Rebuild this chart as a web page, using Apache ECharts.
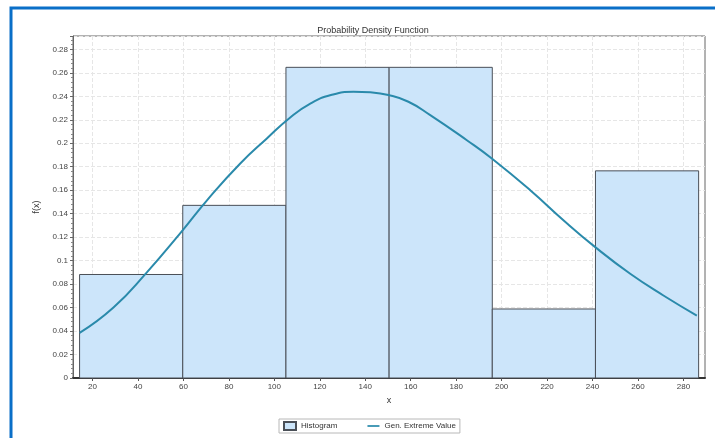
<!DOCTYPE html>
<html>
<head>
<meta charset="utf-8">
<script src="https://cdn.jsdelivr.net/npm/echarts@6/dist/echarts.min.js"></script>
<style>
html,body{margin:0;padding:0;background:#fff;}
#c{width:715px;height:438px;}
</style>
</head>
<body>
<div id="c"></div>
<script>
// Histogram bins (edges) and relative frequencies
var binStarts = [14.3, 59.7, 105.1, 150.5, 195.9, 241.3];
var binEnds   = [59.7, 105.1, 150.5, 195.9, 241.3, 286.7];
var binHeights = [0.0882, 0.1471, 0.2647, 0.2647, 0.0588, 0.1765];

// Gen. Extreme Value fitted curve
var curveX = [14.3, 29.2, 43.9, 59.0, 71.0, 85.0, 96.7, 107.0, 116.0, 124.9, 134.8, 142.2, 150.2, 159.0, 168.6, 184.7, 195.7, 212.6, 227.2, 241.2, 256.6, 271.2, 285.9];
var curveY = [0.0384, 0.0600, 0.0900, 0.1243, 0.1529, 0.1828, 0.2041, 0.2220, 0.2340, 0.2411, 0.2439, 0.2434, 0.2411, 0.2354, 0.2240, 0.2026, 0.1870, 0.1600, 0.1344, 0.1115, 0.0888, 0.0703, 0.0532];

var xTicks = [20, 40, 60, 80, 100, 120, 140, 160, 180, 200, 220, 240, 260, 280];

var histData = binStarts.map(function (s, i) { return [s, binEnds[i], binHeights[i]]; });
var curveData = curveX.map(function (x, i) { return [x, curveY[i]]; });

var chart = echarts.init(document.getElementById('c'));
var font = 'Liberation Sans, Arial, sans-serif';
chart.setOption({
  backgroundColor: '#fff',
  animation: false,
  title: {
    text: 'Probability Density Function',
    left: 368, top: 21, textAlign: 'center',
    textStyle: { fontSize: 9, fontWeight: 'normal', color: '#333', fontFamily: font }
  },
  graphic: [{
    type: 'rect', shape: { x: 11, y: 8, width: 740, height: 460 },
    style: { fill: 'none', stroke: '#0a6fc8', lineWidth: 3 }, z: 100
  }],
  legend: {
    bottom: 5, left: 279,
    itemWidth: 12, itemHeight: 8, itemGap: 30,
    borderColor: '#b8b8b8', borderWidth: 1, padding: [2, 4, 2, 4],
    textStyle: { fontSize: 8, color: '#333', fontFamily: font },
    data: [
      { name: 'Histogram', icon: 'rect' },
      { name: 'Gen. Extreme Value', icon: 'path://M0,0L14,0L14,2L0,2Z' }
    ]
  },
  grid: { left: 73, top: 36, right: 10, bottom: 60, show: true, borderColor: '#666', borderWidth: 1 },
  xAxis: {
    type: 'value', min: 11.4, max: 289.5,
    name: 'x', nameLocation: 'middle', nameGap: 17,
    nameTextStyle: { fontSize: 9, color: '#333', fontFamily: font },
    axisLine: { show: true, lineStyle: { color: '#333', width: 2 } },
    axisTick: { show: true, length: 3, customValues: xTicks, lineStyle: { color: '#555' } },
    axisLabel: {
      customValues: xTicks, margin: 5,
      fontSize: 8, color: '#444', fontFamily: font
    },
    splitLine: { show: true, lineStyle: { color: '#e6e6e6', type: 'dashed' } }
  },
  yAxis: {
    type: 'value', min: 0, max: 0.2914, interval: 0.02,
    name: 'f(x)', nameLocation: 'middle', nameGap: 32, nameRotate: 90,
    nameTextStyle: { fontSize: 9, color: '#333', fontFamily: font },
    axisLine: { show: true, lineStyle: { color: '#666', width: 1 } },
    axisTick: { show: true, length: 3, lineStyle: { color: '#666' } },
    minorTick: { show: true, splitNumber: 5, length: 2, lineStyle: { color: '#888' } },
    axisLabel: { showMaxLabel: false, margin: 5, fontSize: 8, color: '#444', fontFamily: font },
    splitLine: { show: true, lineStyle: { color: '#e6e6e6', type: 'dashed' } }
  },
  series: [
    {
      name: 'Histogram', type: 'custom',
      itemStyle: { color: '#cce5fa', borderColor: '#4a4f57', borderWidth: 1 },
      encode: { x: [0, 1], y: 2 },
      data: histData,
      renderItem: function (params, api) {
        var p0 = api.coord([api.value(0), api.value(2)]);
        var p1 = api.coord([api.value(1), 0]);
        return {
          type: 'rect',
          shape: { x: p0[0], y: p0[1], width: p1[0] - p0[0], height: p1[1] - p0[1] },
          style: { fill: '#cce5fa', stroke: '#4a4f57', lineWidth: 1 }
        };
      },
      z: 2
    },
    {
      name: 'Gen. Extreme Value', type: 'line', smooth: 0.5,
      symbol: 'none', showSymbol: false,
      lineStyle: { color: '#2a8aab', width: 2 },
      itemStyle: { color: '#2a8aab' },
      data: curveData, z: 3
    }
  ]
});
</script>
</body>
</html>
